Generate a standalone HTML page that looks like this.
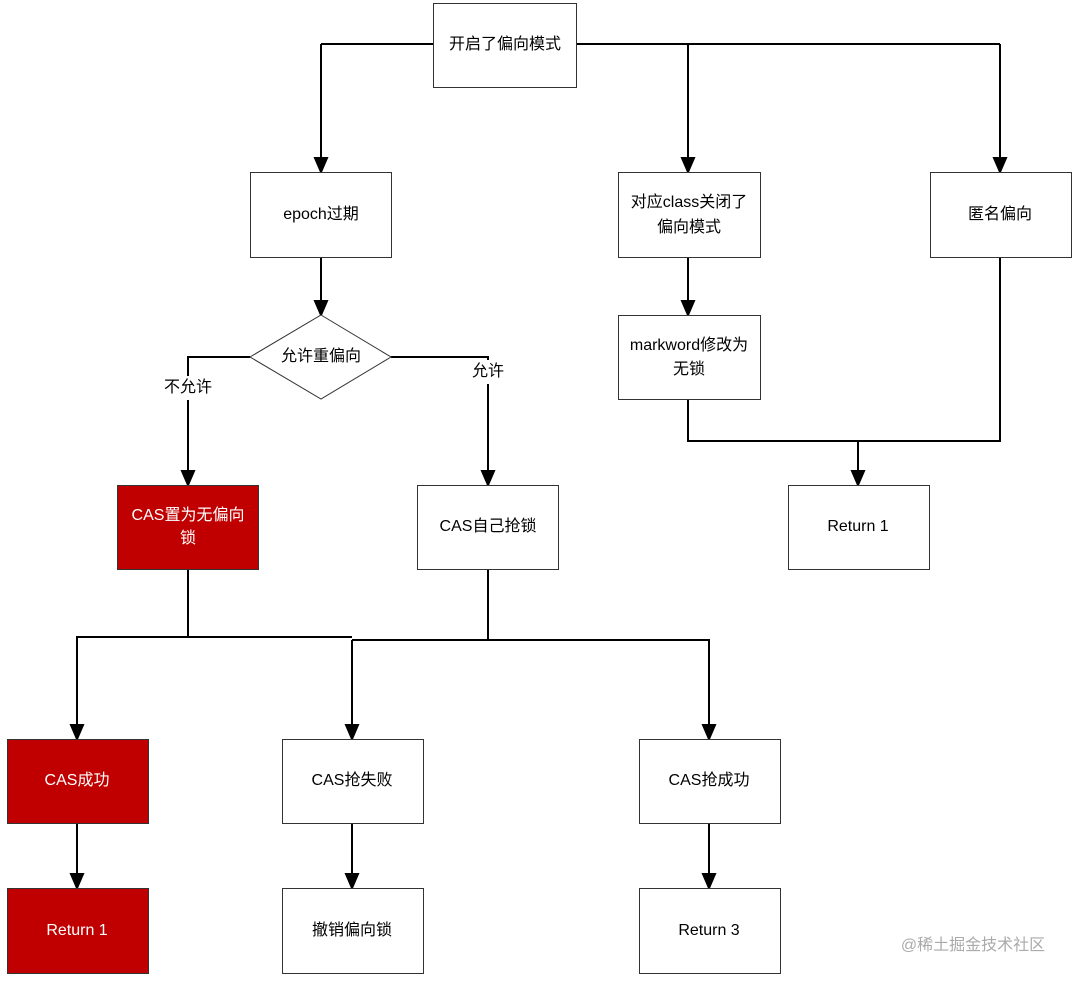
<!DOCTYPE html>
<html><head><meta charset="utf-8"><style>
body{margin:0;background:#fff;}
svg text{font-family:"Liberation Sans","Noto Sans CJK SC",sans-serif;font-size:16px;text-anchor:middle;dominant-baseline:middle;fill:#000;}
</style></head><body>
<svg width="1079" height="984" viewBox="0 0 1079 984" xmlns="http://www.w3.org/2000/svg">
<g stroke="#000" stroke-width="2" fill="none">
<path d="M321,44 H1000"/>
<path d="M321,44 V158"/><path d="M321,158 l-6,0 6,14 6,-14z" fill="#000"/>
<path d="M688,44 V158"/><path d="M688,158 l-6,0 6,14 6,-14z" fill="#000"/>
<path d="M1000,44 V158"/><path d="M1000,158 l-6,0 6,14 6,-14z" fill="#000"/>
<path d="M321,257 V301"/><path d="M321,301 l-6,0 6,14 6,-14z" fill="#000"/>
<path d="M250,357 H188 V471"/><path d="M188,471 l-6,0 6,14 6,-14z" fill="#000"/>
<path d="M391,357 H488 V471"/><path d="M488,471 l-6,0 6,14 6,-14z" fill="#000"/>
<path d="M688,257 V301"/><path d="M688,301 l-6,0 6,14 6,-14z" fill="#000"/>
<path d="M688,399 V441 H1000 V257"/>
<path d="M858,441 V471"/><path d="M858,471 l-6,0 6,14 6,-14z" fill="#000"/>
<path d="M188,569 V637 H77 V725"/><path d="M77,725 l-6,0 6,14 6,-14z" fill="#000"/>
<path d="M188,637 H352"/>
<path d="M488,569 V640"/>
<path d="M352,640 H709 V725"/><path d="M709,725 l-6,0 6,14 6,-14z" fill="#000"/>
<path d="M352,640 V725"/><path d="M352,725 l-6,0 6,14 6,-14z" fill="#000"/>
<path d="M77,823 V874"/><path d="M77,874 l-6,0 6,14 6,-14z" fill="#000"/>
<path d="M352,823 V874"/><path d="M352,874 l-6,0 6,14 6,-14z" fill="#000"/>
<path d="M709,823 V874"/><path d="M709,874 l-6,0 6,14 6,-14z" fill="#000"/>
</g>
<g stroke="#333" stroke-width="1" fill="#fff">
<rect x="433.5" y="3.5" width="143" height="84"/>
<rect x="250.5" y="172.5" width="141" height="85"/>
<rect x="618.5" y="172.5" width="142" height="85"/>
<rect x="930.5" y="172.5" width="141" height="85"/>
<path d="M321,315 L391,357 L321,399 L250,357 Z"/>
<rect x="618.5" y="315.5" width="142" height="84"/>
<rect x="117.5" y="485.5" width="141" height="84" fill="#c00000"/>
<rect x="417.5" y="485.5" width="141" height="84"/>
<rect x="788.5" y="485.5" width="141" height="84"/>
<rect x="7.5" y="739.5" width="141" height="84" fill="#c00000"/>
<rect x="282.5" y="739.5" width="141" height="84"/>
<rect x="639.5" y="739.5" width="141" height="84"/>
<rect x="7.5" y="888.5" width="141" height="85" fill="#c00000"/>
<rect x="282.5" y="888.5" width="141" height="85"/>
<rect x="639.5" y="888.5" width="141" height="85"/>
</g>
<rect x="160" y="376" width="58" height="24" fill="#fff"/>
<rect x="468" y="360" width="40" height="24" fill="#fff"/>
<text x="505" y="45">开启了偏向模式</text>
<text x="321" y="215">epoch过期</text>
<text x="689" y="203">对应class关闭了</text>
<text x="689" y="228">偏向模式</text>
<text x="1000" y="215">匿名偏向</text>
<text x="321" y="357">允许重偏向</text>
<text x="188" y="388">不允许</text>
<text x="488" y="372">允许</text>
<text x="689" y="346" font-size="15">markword修改为</text>
<text x="689" y="370">无锁</text>
<text x="188" y="516" style="fill:#fff">CAS置为无偏向</text>
<text x="188" y="539" style="fill:#fff">锁</text>
<text x="488" y="527">CAS自己抢锁</text>
<text x="858" y="527" font-size="14">Return 1</text>
<text x="77" y="781" font-size="14" style="fill:#fff">CAS成功</text>
<text x="352" y="781">CAS抢失败</text>
<text x="709" y="781">CAS抢成功</text>
<text x="77" y="931" font-size="14" style="fill:#fff">Return 1</text>
<text x="352" y="931">撤销偏向锁</text>
<text x="709" y="931" font-size="14">Return 3</text>
<text x="973" y="946" style="fill:#aaa" font-size="17">@稀土掘金技术社区</text>
</svg>
</body></html>
